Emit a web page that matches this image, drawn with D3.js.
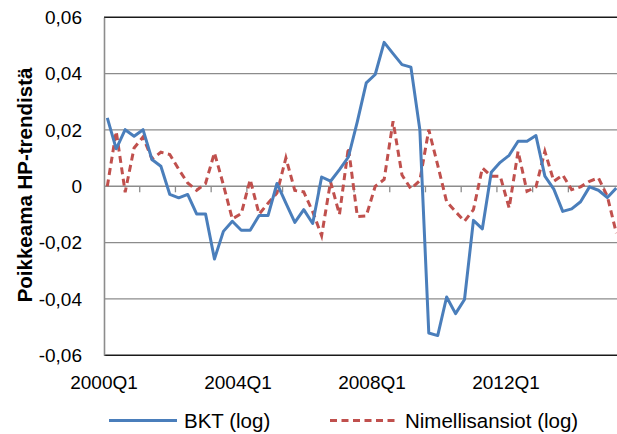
<!DOCTYPE html>
<html>
<head>
<meta charset="utf-8">
<script src="https://cdn.jsdelivr.net/npm/d3@7"></script>
<style>
  html, body { margin: 0; padding: 0; background: #fff; }
  svg { display: block; font-family: "Liberation Sans", Arial, sans-serif; }
</style>
</head>
<body>
<div class="container"></div>
<script>
// Quarterly deviations from HP trend, 2000Q1 ->
const bkt = [
  0.0243, 0.0133, 0.0201, 0.0178, 0.0201, 0.0095, 0.0071, -0.0029, -0.0041, -0.0029,
  -0.0098, -0.0098, -0.0258, -0.0160, -0.0124, -0.0156, -0.0156, -0.0104, -0.0104, 0.0010,
  -0.0060, -0.0128, -0.0083, -0.0132, 0.0033, 0.0018, 0.0059, 0.0104, 0.0230, 0.0367,
  0.0397, 0.0511, 0.0471, 0.0432, 0.0423, 0.0201, -0.0521, -0.0530, -0.0393, -0.0452,
  -0.0402, -0.0121, -0.0151, 0.0050, 0.0085, 0.0110, 0.0160, 0.0160, 0.0180, 0.0036,
  -0.0010, -0.0089, -0.0080, -0.0055, -0.0002, -0.0014, -0.0040, -0.0006
];
const ansiot = [
  0.0000, 0.0195, -0.0021, 0.0136, 0.0175, 0.0097, 0.0121, 0.0113, 0.0060, 0.0012,
  -0.0014, 0.0010, 0.0119, 0.0005, -0.0116, -0.0097, 0.0024, -0.0099, -0.0060, -0.0024,
  0.0101, -0.0015, -0.0020, -0.0090, -0.0175, 0.0016, -0.0100, 0.0138, -0.0107, -0.0105,
  0.0000, 0.0024, 0.0231, 0.0040, -0.0009, 0.0020, 0.0201, 0.0075, -0.0055, -0.0090,
  -0.0124, -0.0083, 0.0065, 0.0036, 0.0036, -0.0077, 0.0124, -0.0018, -0.0002, 0.0124,
  0.0018, 0.0040, -0.0012, -0.0002, 0.0018, 0.0030, -0.0036, -0.0166
];
const xLabels = ["2000Q1", "2004Q1", "2008Q1", "2012Q1"];
const yTicks = [-0.06, -0.04, -0.02, 0, 0.02, 0.04, 0.06];
const seriesNames = ["BKT (log)", "Nimellisansiot (log)"];

const W = 617, H = 434;
const plot = { left: 104, top: 17.3, bottom: 355.3, right: 617 };
const step = 8.93;

const svg = d3.select(".container").append("svg")
  .attr("width", W).attr("height", H);

const x = d3.scaleLinear()
  .domain([0, bkt.length - 1])
  .range([107.3, 107.3 + (bkt.length - 1) * step]);

const y = d3.scaleLinear()
  .domain([-0.06, 0.06])
  .range([plot.bottom, plot.top]);

// label positions (Excel spreads them a bit tighter than the points)
const xl = d3.scalePoint().domain(xLabels).range([104, 506]);

const fmt = v => v === 0 ? "0" : d3.format(".2f")(v).replace(".", ",").replace("\u2212", "-");

// gridlines
svg.append("g")
  .selectAll("line")
  .data(yTicks.filter(v => v !== 0))
  .join("line")
  .attr("x1", plot.left).attr("x2", plot.right)
  .attr("y1", d => y(d)).attr("y2", d => y(d))
  .attr("stroke", d => Math.abs(d) === 0.06 ? "#1a1a1a" : "#8c8c8c")
  .attr("stroke-width", d => Math.abs(d) === 0.06 ? 1.6 : 1.3);

// y axis
const yAxis = svg.append("g")
  .attr("transform", `translate(${plot.left},0)`)
  .call(d3.axisLeft(y).tickValues(yTicks).tickFormat(fmt).tickSize(0).tickPadding(22));
yAxis.select(".domain").attr("stroke", "#8c8c8c").attr("stroke-width", 1.6);
yAxis.selectAll("text")
  .attr("font-size", 19)
  .attr("fill", "#000")
  .attr("font-family", "Liberation Sans, Arial, sans-serif");

// zero axis with ticks every 4 quarters
const zeroY = y(0);
svg.append("line")
  .attr("x1", plot.left).attr("x2", plot.right)
  .attr("y1", zeroY).attr("y2", zeroY)
  .attr("stroke", "#8c8c8c").attr("stroke-width", 1.6);
svg.append("g")
  .selectAll("line")
  .data(d3.range(4, bkt.length + 4, 4))
  .join("line")
  .attr("x1", d => x(d) - 3.3).attr("x2", d => x(d) - 3.3)
  .attr("y1", zeroY).attr("y2", zeroY + 6)
  .attr("stroke", "#8c8c8c").attr("stroke-width", 1.3);

// x labels
svg.append("g")
  .selectAll("text")
  .data(xLabels)
  .join("text")
  .attr("x", d => xl(d))
  .attr("y", 388.5)
  .attr("text-anchor", "middle")
  .attr("font-size", 19)
  .text(d => d);

// y title
svg.append("text")
  .attr("transform", `translate(32,185) rotate(-90)`)
  .attr("text-anchor", "middle")
  .attr("font-size", 20.5)
  .attr("font-weight", "bold")
  .text("Poikkeama HP-trendistä");

// lines
const line = d3.line()
  .x((d, i) => x(i))
  .y(d => y(d));

svg.append("path")
  .datum(ansiot)
  .attr("d", line)
  .attr("fill", "none")
  .attr("stroke", "#C0504D")
  .attr("stroke-width", 3)
  .attr("stroke-dasharray", "7,4.5");

svg.append("path")
  .datum(bkt)
  .attr("d", line)
  .attr("fill", "none")
  .attr("stroke", "#4A7EBB")
  .attr("stroke-width", 3)
  .attr("stroke-linejoin", "round");

// legend
const legend = svg.append("g");
const items = [
  { name: seriesNames[0], color: "#4A7EBB", dash: null, x0: 109 },
  { name: seriesNames[1], color: "#C0504D", dash: "7,4.5", x0: 330 }
];
items.forEach(it => {
  legend.append("line")
    .attr("x1", it.x0).attr("x2", it.x0 + 68)
    .attr("y1", 420.5).attr("y2", 420.5)
    .attr("stroke", it.color).attr("stroke-width", 3)
    .attr("stroke-dasharray", it.dash);
  legend.append("text")
    .attr("x", it.x0 + 75)
    .attr("y", 427.5)
    .attr("font-size", 20.5)
    .text(it.name);
});
</script>
</body>
</html>
